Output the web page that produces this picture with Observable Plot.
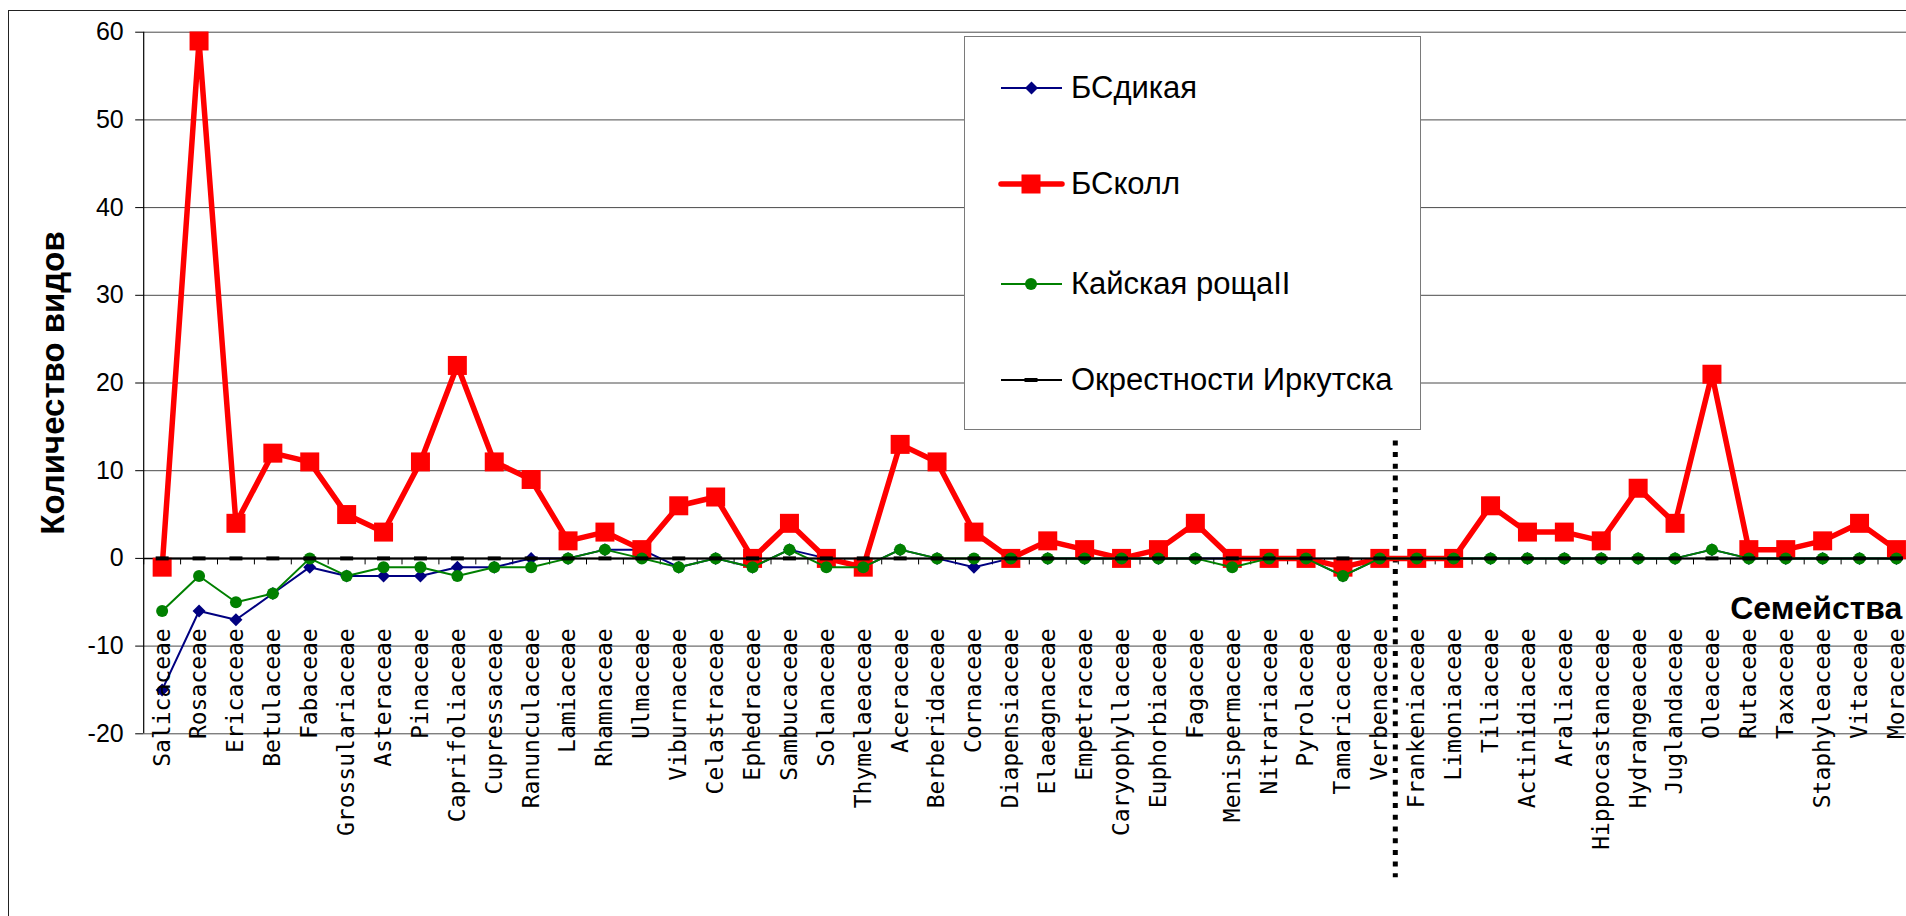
<!DOCTYPE html>
<html><head><meta charset="utf-8">
<script src="https://cdn.jsdelivr.net/npm/d3@7"></script>
<script src="https://cdn.jsdelivr.net/npm/@observablehq/plot@0.6"></script>
<style>
html,body{margin:0;padding:0;background:#fff;overflow:hidden;}
#wrap{position:relative;width:1906px;height:916px;overflow:hidden;background:#fff;}
#border{position:absolute;left:8px;top:10px;width:2000px;height:1000px;border-left:1px solid #222;border-top:1px solid #222;pointer-events:none;}
#legend{position:absolute;left:964px;top:36px;width:455px;height:392px;border:1px solid #7a7a7a;background:#fff;font-family:"Liberation Sans",Arial,sans-serif;font-size:31px;color:#000;}
.row{position:absolute;left:0;width:455px;height:40px;}
.row svg{position:absolute;left:30px;top:0;}
.row span{position:absolute;left:106px;top:0;line-height:40px;white-space:nowrap;}
</style></head><body><div id="wrap"><div id="border"></div></div>
<script>
// ---- data ----
const categories = ["Salicaceae","Rosaceae","Ericaceae","Betulaceae","Fabaceae","Grossulariaceae","Asteraceae","Pinaceae","Caprifoliaceae","Cupressaceae","Ranunculaceae","Lamiaceae","Rhamnaceae","Ulmaceae","Viburnaceae","Celastraceae","Ephedraceae","Sambucaceae","Solanaceae","Thymelaeaceae","Aceraceae","Berberidaceae","Cornaceae","Diapensiaceae","Elaeagnaceae","Empetraceae","Caryophyllaceae","Euphorbiaceae","Fagaceae","Menispermaceae","Nitrariaceae","Pyrolaceae","Tamaricaceae","Verbenaceae","Frankeniaceae","Limoniaceae","Tiliaceae","Actinidiaceae","Araliaceae","Hippocastanaceae","Hydrangeaceae","Juglandaceae","Oleaceae","Rutaceae","Taxaceae","Staphyleaceae","Vitaceae","Moraceae"];
const bsWild  = [-15,-6,-7,-4,-1,-2,-2,-2,-1,-1,0,0,1,1,-1,0,-1,1,0,-1,1,0,-1,0,0,0,0,0,0,0,0,0,-2,0,0,0,0,0,0,0,0,0,1,0,0,0,0,0];
const bsColl  = [-1,59,4,12,11,5,3,11,22,11,9,2,3,1,6,7,0,4,0,-1,13,11,3,0,2,1,0,1,4,0,0,0,-1,0,0,0,6,3,3,2,8,4,21,1,1,2,4,1];
const kaya    = [-6,-2,-5,-4,0,-2,-1,-1,-2,-1,-1,0,1,0,-1,0,-1,1,-1,-1,1,0,0,0,0,0,0,0,0,-1,0,0,-2,0,0,0,0,0,0,0,0,0,1,0,0,0,0,0];
const irkutsk = [0,0,0,0,0,0,0,0,0,0,0,0,0,0,0,0,0,0,0,0,0,0,0,0,0,0,0,0,0,0,0,0,0,0,0,0,0,0,0,0,0,0,0,0,0,0,0,0];
const seriesNames = ["БСдикая","БСколл","Кайская рощаII","Окрестности Иркутска"];
const yTicks = [-20,-10,0,10,20,30,40,50,60];
const yTitle = "Количество видов";
const xTitle = "Семейства";
const separator = {after: "Verbenaceae", top: 13.4, bottom: -36.4};

// ---- layout ----
const W = 1906, H = 916, mL = 143.2, mR = -8.4, mT = 31.7, mB = 182.7;
const step = (W - mL - mR) / categories.length;
const FONT = "Liberation Sans, Arial, sans-serif";

const rows = categories.map((c, i) => ({c, wild: bsWild[i], coll: bsColl[i], kaya: kaya[i], irk: irkutsk[i]}));

const diamond = {draw(ctx){ctx.moveTo(0,-6.5);ctx.lineTo(6.5,0);ctx.lineTo(0,6.5);ctx.lineTo(-6.5,0);ctx.closePath();}};
const square = {draw(ctx){ctx.rect(-9.5,-9.5,19,19);}};
const dash = {draw(ctx){ctx.rect(-6.5,-2,13,4);}};
const tickSym = {draw(ctx){ctx.moveTo(0,0);ctx.lineTo(0,6);}};

const chart = Plot.plot({
  width: W, height: H, marginLeft: mL, marginRight: mR, marginTop: mT, marginBottom: mB,
  style: {background: "transparent", fontFamily: FONT, overflow: "visible"},
  x: {type: "point", domain: categories, padding: 0.5, axis: null},
  y: {domain: [-20, 60]},
  marks: [
    Plot.ruleY(yTicks.filter(d => d !== 0), {stroke: "#4a4a4a", strokeWidth: 1}),
    Plot.ruleX([categories[0]], {x: d => d, dx: -step/2, y1: -20, y2: 60, stroke: "#000", strokeWidth: 1.2}),
    Plot.axisY({ticks: yTicks, tickSize: 8, tickPadding: 12, fontSize: 25, fontFamily: FONT, tickFormat: d => String(d), label: null, stroke: "#000", fill: "#000"}),
    Plot.ruleY([0], {stroke: "#000", strokeWidth: 1.5}),
    Plot.dot(categories, {x: d => d, y: () => 0, symbol: tickSym, dx: -step/2, fill: "none", stroke: "#000", strokeWidth: 1}),
    // separator
    Plot.ruleX([separator.after], {x: d => d, dx: step/2 - 3, y1: separator.top, y2: separator.bottom, stroke: "#000", strokeWidth: 5, strokeDasharray: "5,6.7"}),
    // БСдикая
    Plot.line(rows, {x: "c", y: "wild", stroke: "#000080", strokeWidth: 2}),
    Plot.dot(rows, {x: "c", y: "wild", symbol: diamond, fill: "#000080", stroke: "none"}),
    // БСколл
    Plot.line(rows, {x: "c", y: "coll", stroke: "#ff0000", strokeWidth: 5.5, strokeLinejoin: "round"}),
    Plot.dot(rows, {x: "c", y: "coll", symbol: square, fill: "#ff0000", stroke: "none"}),
    // Кайская роща
    Plot.line(rows, {x: "c", y: "kaya", stroke: "#008000", strokeWidth: 2}),
    Plot.dot(rows, {x: "c", y: "kaya", r: 6, fill: "#008000", stroke: "none"}),
    // Окрестности Иркутска
    Plot.line(rows, {x: "c", y: "irk", stroke: "#000", strokeWidth: 2}),
    Plot.dot(rows, {x: "c", y: "irk", symbol: dash, fill: "#000", stroke: "none"}),
    // category labels
    Plot.text(categories, {x: d => d, frameAnchor: "bottom", dy: -105.5, text: d => d, rotate: -90, textAnchor: "end", lineAnchor: "middle", fontSize: 23, fontFamily: "DejaVu Sans Mono, monospace", fill: "#000"}),
    // titles
    Plot.text([yTitle], {frameAnchor: "left", dx: -90, rotate: -90, text: d => d, textAnchor: "middle", lineAnchor: "middle", fontSize: 33, fontWeight: "bold", fontFamily: FONT, fill: "#000"}),
    Plot.text([xTitle], {frameAnchor: "bottom-right", dx: -12.5, dy: -125, text: d => d, textAnchor: "end", lineAnchor: "middle", fontSize: 32, fontWeight: "bold", fontFamily: FONT, fill: "#000"})
  ]
});

const wrap = document.getElementById("wrap");
wrap.insertBefore(chart, wrap.firstChild);

// ---- legend ----
const legend = document.createElement("div");
legend.id = "legend";
const swatches = [
  `<line x1="6" y1="20" x2="67" y2="20" stroke="#000080" stroke-width="2"/><path d="M36.5,13.5L43,20L36.5,26.5L30,20Z" fill="#000080"/>`,
  `<line x1="6" y1="20" x2="67" y2="20" stroke="#ff0000" stroke-width="5.5" stroke-linecap="round"/><rect x="26.5" y="10.5" width="19" height="19" fill="#ff0000"/>`,
  `<line x1="6" y1="20" x2="67" y2="20" stroke="#008000" stroke-width="2"/><circle cx="36" cy="20" r="6" fill="#008000"/>`,
  `<line x1="6" y1="20" x2="67" y2="20" stroke="#000" stroke-width="2"/><rect x="29.5" y="18" width="13" height="4" fill="#000"/>`
];
const rowCenters = [51, 147, 247, 343];
seriesNames.forEach((name, i) => {
  const r = document.createElement("div");
  r.className = "row";
  r.style.top = (rowCenters[i] - 20) + "px";
  r.innerHTML = `<svg width="74" height="40">${swatches[i]}</svg><span>${name}</span>`;
  legend.appendChild(r);
});
wrap.appendChild(legend);
</script>
</body></html>
